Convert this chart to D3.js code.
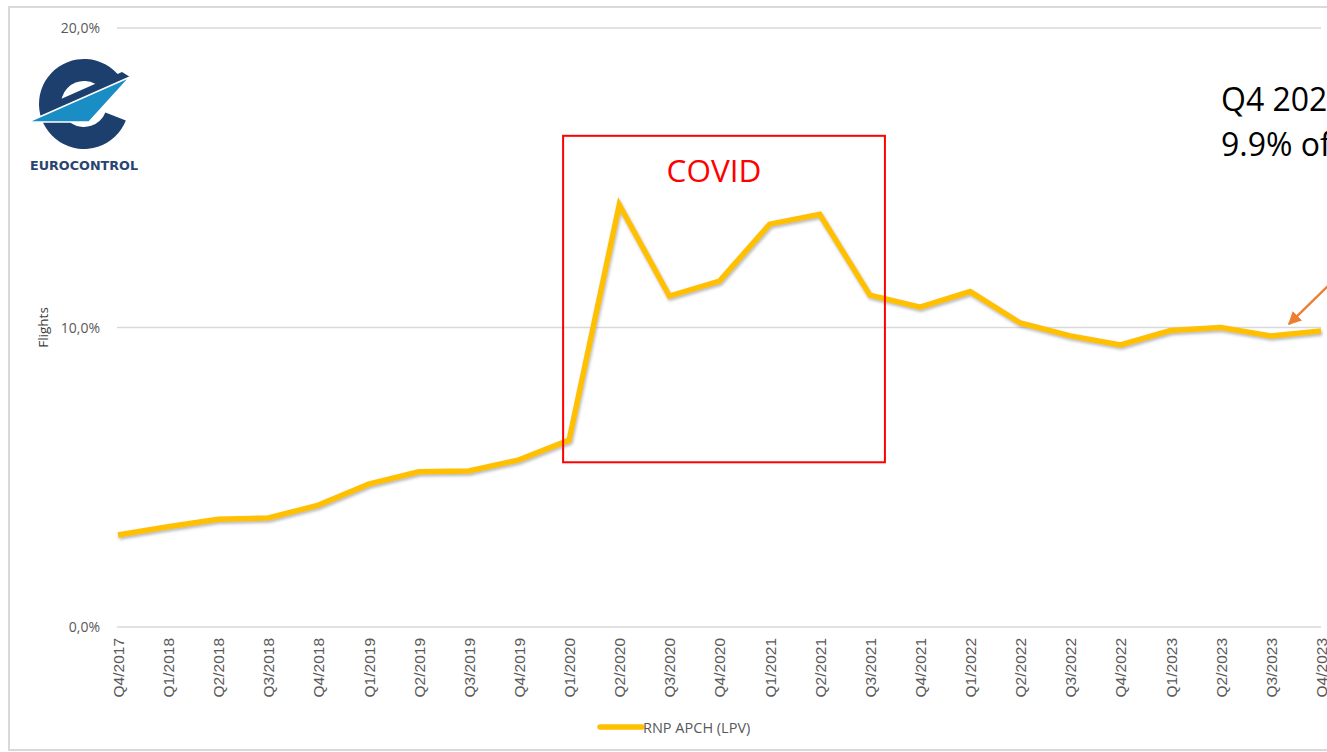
<!DOCTYPE html>
<html>
<head>
<meta charset="utf-8">
<script src="https://cdn.jsdelivr.net/npm/d3@7"></script>
<style>
  html, body { margin: 0; padding: 0; background: #fff; overflow: hidden; }
  svg { display: block; }
</style>
</head>
<body>
<div id="chart"></div>
<script>
// quarters on the x axis
const quarters = ['Q4/2017','Q1/2018','Q2/2018','Q3/2018','Q4/2018','Q1/2019','Q2/2019','Q3/2019','Q4/2019',
  'Q1/2020','Q2/2020','Q3/2020','Q4/2020','Q1/2021','Q2/2021','Q3/2021','Q4/2021',
  'Q1/2022','Q2/2022','Q3/2022','Q4/2022','Q1/2023','Q2/2023','Q3/2023','Q4/2023'];
// share of flights flying RNP APCH (LPV), in %
const lpvShare = [3.07, 3.35, 3.6, 3.64, 4.07, 4.77, 5.18, 5.21, 5.58,
  6.24, 14.1, 11.05, 11.55, 13.45, 13.78, 11.08, 10.68,
  11.2, 10.15, 9.72, 9.42, 9.9, 10.0, 9.72, 9.88];
const yTicks = [0, 10, 20];
const seriesName = 'RNP APCH (LPV)';
const noteLines = ['Q4 2023', '9.9% of flights'];
// covid box, in data units (category index, %)
const covidBox = { i0: 8.88, i1: 15.3, v0: 16.4, v1: 5.5 };

class LpvChart {
    constructor() {
        this.width = 1327;
        this.height = 752;
        this.svg = null;
    }

    render() {
        const svg = d3.select('#chart').append('svg')
            .attr('width', this.width)
            .attr('height', this.height);
        this.svg = svg;

        const defs = svg.append('defs');
        const shadow = defs.append('filter').attr('id', 'shadow')
            .attr('x', '-5%').attr('y', '-20%').attr('width', '110%').attr('height', '140%');
        shadow.append('feDropShadow')
            .attr('dx', 1).attr('dy', 2).attr('stdDeviation', 1.5)
            .attr('flood-color', '#7f7f7f').attr('flood-opacity', 0.55);
        defs.append('marker').attr('id', 'arrowhead')
            .attr('viewBox', '0 0 10 10').attr('refX', 9).attr('refY', 5)
            .attr('markerWidth', 5.5).attr('markerHeight', 5.5).attr('orient', 'auto-start-reverse')
            .append('path').attr('d', 'M0,0 L10,5 L0,10 z').attr('fill', '#ED7D31');

        // outer frame
        svg.append('rect')
            .attr('x', 9).attr('y', 7).attr('width', 1340).attr('height', 743)
            .attr('fill', 'none').attr('stroke', '#d9d9d9').attr('stroke-width', 2);

        const x = d3.scalePoint().domain(quarters).range([118, 1321]);
        const y = d3.scaleLinear().domain([0, 20]).range([627, 28]);
        const step = x.step();
        const xi = i => x(quarters[0]) + i * step;

        // gridlines
        svg.append('g').selectAll('line').data(yTicks).enter().append('line')
            .attr('x1', 117).attr('x2', 1321)
            .attr('y1', d => y(d)).attr('y2', d => y(d))
            .attr('stroke', '#d9d9d9').attr('stroke-width', 1.3);

        // y axis labels
        svg.append('g').selectAll('text').data(yTicks).enter().append('text')
            .attr('x', 100).attr('y', d => y(d) + 5)
            .attr('text-anchor', 'end')
            .attr('font-family', 'Open Sans, sans-serif').attr('font-size', 14)
            .attr('fill', '#595959')
            .text(d => d3.format('.1f')(d).replace('.', ',') + '%');

        svg.append('text')
            .attr('transform', 'translate(48,' + y(10) + ') rotate(-90)')
            .attr('text-anchor', 'middle')
            .attr('font-family', 'Open Sans, sans-serif').attr('font-size', 13.5)
            .attr('fill', '#404040')
            .text('Flights');

        // x axis labels
        const xAxis = d3.axisBottom(x).tickSize(0).tickPadding(0);
        const gx = svg.append('g').attr('transform', 'translate(0,' + y(0) + ')').call(xAxis);
        gx.select('.domain').remove();
        gx.selectAll('text')
            .attr('transform', 'rotate(-90)')
            .attr('x', -11).attr('y', 0).attr('dy', '0.35em')
            .attr('text-anchor', 'end')
            .attr('font-family', 'Liberation Sans, Arial, sans-serif').attr('font-size', 15.5)
            .attr('fill', '#595959');

        // the series
        const line = d3.line().x((d, i) => x(quarters[i])).y(d => y(d));
        svg.append('path')
            .datum(lpvShare)
            .attr('d', line)
            .attr('fill', 'none')
            .attr('stroke', '#FFC000')
            .attr('stroke-width', 5.5)
            .attr('stroke-linejoin', 'miter')
            .attr('filter', 'url(#shadow)');

        // covid box
        svg.append('rect')
            .attr('x', xi(covidBox.i0)).attr('y', y(covidBox.v0))
            .attr('width', xi(covidBox.i1) - xi(covidBox.i0))
            .attr('height', y(covidBox.v1) - y(covidBox.v0))
            .attr('fill', 'none').attr('stroke', '#FF0000').attr('stroke-width', 2);
        svg.append('text')
            .attr('x', (xi(covidBox.i0) + xi(covidBox.i1)) / 2 - 10)
            .attr('y', y(covidBox.v0) + 46)
            .attr('text-anchor', 'middle')
            .attr('font-family', 'Open Sans, sans-serif').attr('font-size', 31.5)
            .attr('fill', '#FF0000')
            .text('COVID');

        // note at the right, clipped by the window like in the slide
        svg.append('g').selectAll('text').data(noteLines).enter().append('text')
            .attr('x', 1221).attr('y', (d, i) => 111 + i * 45)
            .attr('font-family', 'Open Sans, sans-serif').attr('font-size', 32)
            .attr('fill', '#000')
            .text(d => d);

        // arrow pointing at the last value
        const last = lpvShare.length - 1;
        svg.append('line')
            .attr('x1', xi(last) + 14).attr('y1', y(lpvShare[last]) - 52)
            .attr('x2', xi(last - 0.64)).attr('y2', y(lpvShare[last]) - 7)
            .attr('stroke', '#ED7D31').attr('stroke-width', 2.4)
            .attr('marker-end', 'url(#arrowhead)');

        // legend
        const lg = svg.append('g').attr('transform', 'translate(600,727)');
        lg.append('line').attr('x1', 0).attr('x2', 42).attr('y1', 0).attr('y2', 0)
            .attr('stroke', '#FFC000').attr('stroke-width', 5.5).attr('stroke-linecap', 'round');
        lg.append('text').attr('x', 43).attr('y', 6)
            .attr('font-family', 'Open Sans, sans-serif').attr('font-size', 14.5)
            .attr('fill', '#595959')
            .text(seriesName);

        this.drawLogo();
    }

    drawLogo() {
        const navy = '#1c3f6e';
        const blue = '#1a8dc5';
        const g = this.svg.append('g').attr('transform', 'translate(84,104)');
        const ring = d3.arc().innerRadius(23).outerRadius(45)
            .startAngle(Math.PI * 0.62).endAngle(Math.PI * 2 + Math.PI * 0.30);
        g.append('path').attr('d', ring()).attr('fill', navy);
        // crossbar of the e
        g.append('path')
            .attr('d', 'M-25,7 L-23,-5 L38,-32 L46,-27 Z')
            .attr('fill', navy);
        // the wing
        g.append('path')
            .attr('d', 'M-56,18 L46,-27 L5,18 Z')
            .attr('fill', blue).attr('stroke', '#fff').attr('stroke-width', 1.6);
        this.svg.append('text')
            .attr('x', 30).attr('y', 170)
            .attr('textLength', 108).attr('lengthAdjust', 'spacingAndGlyphs')
            .attr('font-family', 'DejaVu Sans Condensed, Liberation Sans Narrow, sans-serif')
            .attr('font-weight', 'bold').attr('font-size', 12.5)
            .attr('fill', '#2a4470')
            .text('EUROCONTROL');
    }
}

const lpvChart = new LpvChart();
lpvChart.render();
</script>
</body>
</html>
